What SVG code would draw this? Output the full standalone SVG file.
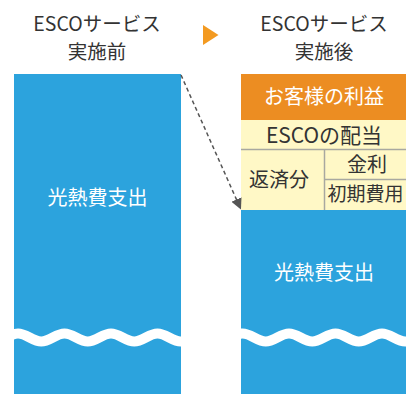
<svg xmlns="http://www.w3.org/2000/svg" width="406" height="394" viewBox="0 0 406 394">
<style>
text{font-family:"Noto Sans CJK JP","Noto Sans",sans-serif;text-anchor:middle}
.t{font-size:19.5px;fill:#333}
.w{font-size:20px;fill:#fff}
.d{font-size:20px;fill:#333}
.blue{fill:#2CA3DD}
.wave{fill:none;stroke:#fff;stroke-width:10}
.div{stroke:#A8A8A0;stroke-width:1.5}
</style>
<defs>
<clipPath id="cl"><rect x="14" y="74" width="167" height="320"/></clipPath>
<clipPath id="cr"><rect x="241" y="210" width="165" height="184"/></clipPath>
<marker id="ah" viewBox="0 0 10 10" refX="9" refY="5" markerWidth="11" markerHeight="11" markerUnits="userSpaceOnUse" orient="auto">
<path d="M0,0 L10,5 L0,10 z" fill="#555"/>
</marker>
</defs>
<g id="title-before">
<text class="t" x="97" y="30.5">ESCOサービス</text>
<text class="t" x="97" y="58.8">実施前</text>
</g>
<g id="title-after">
<text class="t" x="324" y="30.5">ESCOサービス</text>
<text class="t" x="324" y="58.8">実施後</text>
</g>
<g id="before-expense">
<rect class="blue" x="14" y="74" width="167" height="320"/>
<text class="w" x="97.5" y="205">光熱費支出</text>
<path class="wave" clip-path="url(#cl)" d="M-28.5,333.5 c8.4,0 14.85,8 23.25,8 s14.85,-8 23.25,-8 s14.85,8 23.25,8 s14.85,-8 23.25,-8 s14.85,8 23.25,8 s14.85,-8 23.25,-8 s14.85,8 23.25,8 s14.85,-8 23.25,-8 s14.85,8 23.25,8 s14.85,-8 23.25,-8 s14.85,8 23.25,8"/>
</g>
<g id="after-profit">
<rect x="241" y="74" width="165" height="46" fill="#EC8D22"/>
<text class="w" x="324" y="104">お客様の利益</text>
</g>
<g id="after-dividend">
<rect x="241" y="120" width="165" height="90" fill="#FFF8C6"/>
<text class="d" x="324" y="143" style="font-size:21px">ESCOの配当</text>
</g>
<g id="after-repayment">
<line class="div" x1="241" y1="149.5" x2="406" y2="149.5"/>
<line class="div" x1="324.5" y1="149.5" x2="324.5" y2="210"/>
<text class="d" x="279" y="187">返済分</text>
</g>
<g id="after-interest">
<line class="div" x1="324.5" y1="179.5" x2="406" y2="179.5"/>
<text class="d" x="367" y="172">金利</text>
</g>
<g id="after-initial">
<text class="d" x="365.5" y="201" style="font-size:19px">初期費用</text>
</g>
<g id="after-expense">
<rect class="blue" x="241" y="210" width="165" height="184"/>
<text class="w" x="324" y="280">光熱費支出</text>
<path class="wave" clip-path="url(#cr)" d="M196,333.5 c8.4,0 14.85,8 23.25,8 s14.85,-8 23.25,-8 s14.85,8 23.25,8 s14.85,-8 23.25,-8 s14.85,8 23.25,8 s14.85,-8 23.25,-8 s14.85,8 23.25,8 s14.85,-8 23.25,-8 s14.85,8 23.25,8 s14.85,-8 23.25,-8 s14.85,8 23.25,8"/>
</g>
<g id="connectors">
<polygon points="203,25 218.5,35 203,45" fill="#F39A21"/>
<line x1="181" y1="75" x2="240.5" y2="208.5" stroke="#555" stroke-width="1.5" stroke-dasharray="4,3" marker-end="url(#ah)"/>
</g>
</svg>
